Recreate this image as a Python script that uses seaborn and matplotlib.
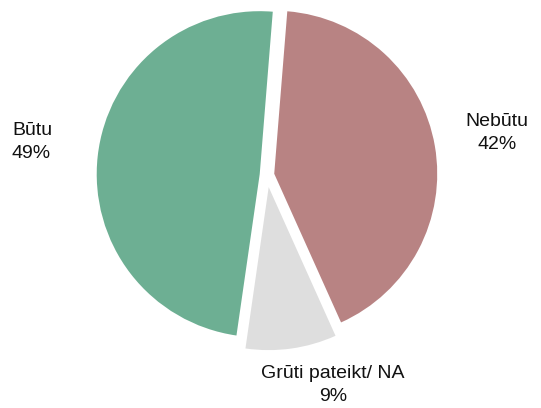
import matplotlib
matplotlib.use("Agg")
import matplotlib.pyplot as plt
import seaborn as sns

sns.set_theme(style="white")
plt.rcParams['font.family'] = ['Liberation Sans', 'DejaVu Sans']

categories = ["Nebūtu", "Grūti pateikt/ NA", "Būtu"]
values = [42, 9, 49]
colors = ["#B88383", "#DEDEDE", "#6DAF93"]

W, H = 541, 408
fig = plt.figure(figsize=(W / 100, H / 100), dpi=100)
cx, cy, R, box = 267, 175, 163, 340
ax = fig.add_axes([(cx - box / 2) / W, (H - cy - box / 2) / H, box / W, box / H])
ax.pie(values, colors=colors, startangle=85.4, counterclock=False,
       explode=[0.045, 0.075, 0.045], radius=1, wedgeprops=dict(linewidth=0))
lim = (box / 2) / R
ax.set_xlim(-lim, lim)
ax.set_ylim(-lim, lim)
ax.set_aspect("equal")
ax.axis("off")

fs = 14
ls = 1.45
fig.text(12 / W, 1 - 142 / H, f"{categories[2]}\n{values[2]}%", ha="left", va="center",
         fontsize=fs, color="#111111", linespacing=ls)
fig.text(497 / W, 1 - 133 / H, f"{categories[0]}\n{values[0]}%", ha="center", va="center",
         fontsize=fs, color="#111111", linespacing=ls, multialignment="center")
fig.text(333 / W, 1 - 385 / H, f"{categories[1]}\n{values[1]}%", ha="center", va="center",
         fontsize=fs, color="#111111", linespacing=ls, multialignment="center")

fig.savefig("out.png", dpi=100)
